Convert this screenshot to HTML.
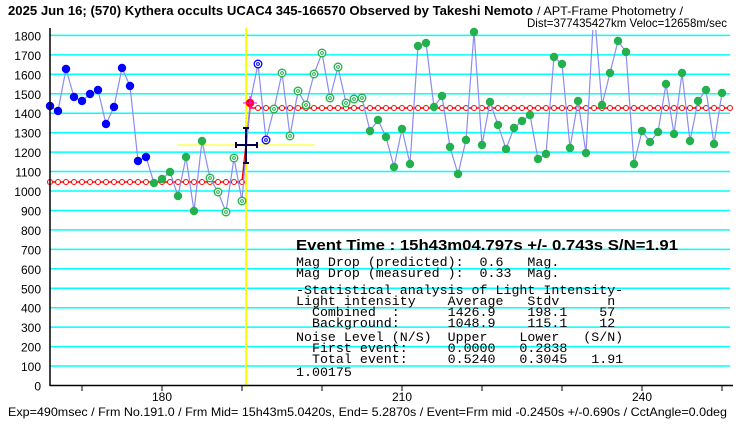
<!DOCTYPE html>
<html><head><meta charset="utf-8"><style>
body{margin:0;background:#fff;width:740px;height:425px;overflow:hidden}
svg{display:block}
.t{font-family:"Liberation Sans",sans-serif}
.m{font-family:"Liberation Mono",monospace;font-size:13.3px}
</style></head><body>
<svg id="s" width="740" height="425" xmlns="http://www.w3.org/2000/svg">
<defs><clipPath id="cp"><rect x="40" y="30" width="700" height="360"/></clipPath></defs>
<text class="t" x="8" y="15" font-size="13" font-weight="bold" textLength="525" lengthAdjust="spacingAndGlyphs">2025 Jun 16; (570) Kythera occults UCAC4 345-166570 Observed by Takeshi Nemoto</text>
<text class="t" x="537" y="15" font-size="12" textLength="146" lengthAdjust="spacingAndGlyphs">/ APT-Frame Photometry /</text>
<text class="t" x="727" y="27" font-size="12" text-anchor="end" textLength="200" lengthAdjust="spacingAndGlyphs">Dist=377435427km Veloc=12658m/sec</text>
<g id="grid"></g>
<line x1="177" y1="145" x2="315" y2="145" stroke="#ffff00" stroke-width="1"/>
<line x1="246" y1="28" x2="246" y2="385" stroke="#ffff00" stroke-width="2"/>
<g id="red"></g>
<polyline id="pl" fill="none" stroke="#8c8cf0" stroke-width="1.2" clip-path="url(#cp)"/>
<g id="pts"></g>
<g stroke="#000050" stroke-width="2">
<line x1="236" y1="145" x2="257" y2="145"/><line x1="246" y1="128" x2="246" y2="163"/>
<line x1="243" y1="128" x2="249" y2="128"/><line x1="243" y1="163" x2="249" y2="163"/>
<line x1="236" y1="142" x2="236" y2="148"/><line x1="257" y1="142" x2="257" y2="148"/>
</g>
<line x1="50" y1="28" x2="50" y2="386" stroke="#000" stroke-width="1.5"/>
<line x1="50" y1="385.5" x2="733" y2="385.5" stroke="#000" stroke-width="1.5"/>
<g id="ax"></g>
<text class="t" x="296" y="250" font-size="15" font-weight="bold" textLength="382" lengthAdjust="spacingAndGlyphs">Event Time : 15h43m04.797s  +/- 0.743s  S/N=1.91</text>
<g class="m" id="tx"></g>
<text class="t" x="8" y="416" font-size="12" textLength="719" lengthAdjust="spacingAndGlyphs">Exp=490msec / Frm No.191.0 / Frm Mid= 15h43m5.0420s,  End= 5.2870s / Event=Frm mid -0.2450s +/-0.690s / CctAngle=0.0deg</text>
</svg>
<script>
const NS="http://www.w3.org/2000/svg";
function el(p,t,a,txt){const e=document.createElementNS(NS,t);for(const k in a)e.setAttribute(k,a[k]);if(txt!=null)e.textContent=txt;document.getElementById(p).appendChild(e);return e;}
const Y=v=>385.5-0.1945*v;
for(let v=0;v<=1800;v+=100){const y=Y(v);if(v>0)el("grid","line",{x1:50,x2:730,y1:y,y2:y,stroke:"#00ffff","stroke-width":1.5});
el("ax","text",{x:41,y:y+5,"text-anchor":"end","font-size":12,"font-family":"Liberation Sans,sans-serif"},String(v));}
for(let x=82;x<=730;x+=80)el("ax","line",{x1:x,x2:x,y1:385,y2:391,stroke:"#000"});
[[162,"180"],[402,"210"],[642,"240"]].forEach(([x,t])=>el("ax","text",{x:x,y:401,"text-anchor":"middle","font-size":12,"font-family":"Liberation Sans,sans-serif"},t));
el("red","polyline",{points:"50,182 242,182 246,145 250,108 730,108",fill:"none",stroke:"#ff0000","stroke-width":1.5});
for(let x=50;x<=242;x+=8)el("red","circle",{cx:x,cy:182,r:2.5,fill:"#fff",stroke:"#ff0000"});
for(let x=258;x<=730;x+=8)el("red","circle",{cx:x,cy:108,r:2.5,fill:"#fff",stroke:"#ff0000"});
const ys=[106,111,69,97,101,94,90,124,107,68,86,161,157,183,179,172,196,157,211,141,178,192,212,158,201,103,64,140,109,73,136,91,
105,74,53,98,67,103,99,98,131,120,137,167,129,164,46,43,107,96,147,174,140,32,145,102,125,149,128,121,115,159,154,57,64,148,101,153,8,105,73,41,52,164,131,142,132,84,134,73,141,101,90,144,93];
let pts=ys.map((y,i)=>(50+8*i)+","+y).join(" ");
document.getElementById("pl").setAttribute("points",pts);
ys.forEach((y,i)=>{const x=50+8*i;if(y<20)return;
 let col,ring=false;
 if(i<=12)col="#0000ff";else if(i<=19)col="#22b14c";else if(i<=24){col="#22b14c";ring=true;}
 else if(i==25)col="#ff0000";else if(i<=27){col="#0000ff";ring=true;}else if(i<=39){col="#22b14c";ring=true;}else col="#22b14c";
 if(ring){el("pts","circle",{cx:x,cy:y,r:3.8,fill:"#fff",stroke:col,"stroke-width":1.3});el("pts","circle",{cx:x,cy:y,r:1.4,fill:"none",stroke:col});}
 else el("pts","circle",{cx:x,cy:y,r:4.2,fill:col});
});
el("pts","line",{x1:243,x2:257,y1:103,y2:103,stroke:"#ff00ff"});el("pts","line",{x1:250,x2:250,y1:96,y2:110,stroke:"#ff00ff"});
const lines=[[262,"Mag Drop (predicted):  0.6   Mag."],[273,"Mag Drop (measured ):  0.33  Mag."],[290,"-Statistical analysis of Light Intensity-"],
[301,"Light intensity    Average   Stdv      n"],[312,"  Combined  :      1426.9    198.1    57"],[323,"  Background:      1048.9    115.1    12"],
[337,"Noise Level (N/S)  Upper    Lower   (S/N)"],[348,"  First event:     0.0000   0.2838"],[359,"  Total event:     0.5240   0.3045   1.91"],[372,"1.00175"]];
lines.forEach(([y,t])=>el("tx","text",{x:296,y:y+4,"xml:space":"preserve",style:"white-space:pre"},t));
</script>
</body></html>
